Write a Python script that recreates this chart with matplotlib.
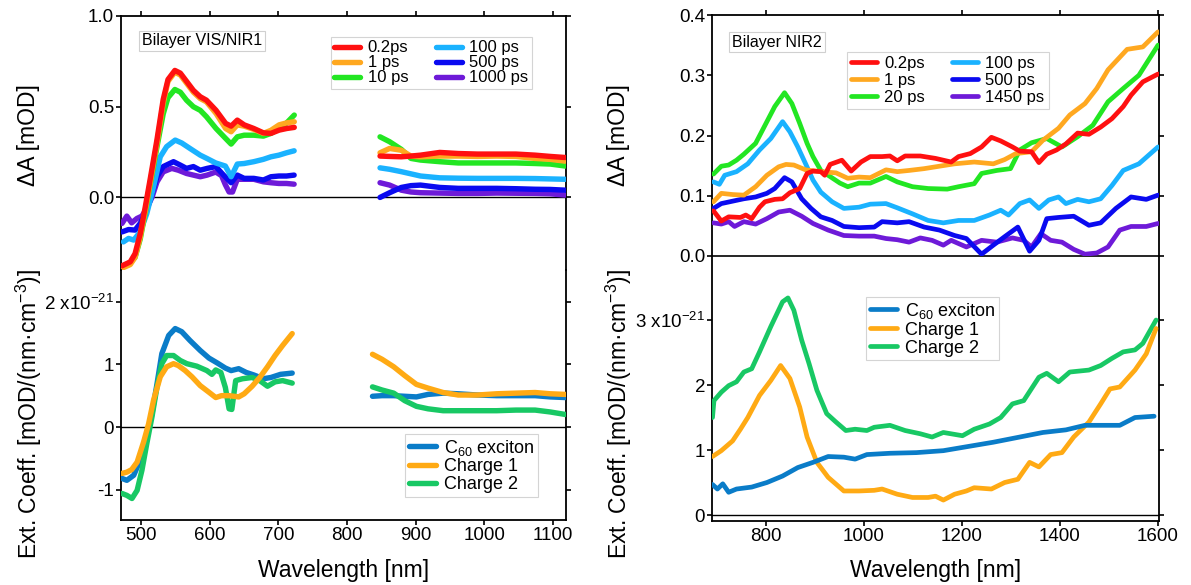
import matplotlib
matplotlib.use("Agg")
import matplotlib.pyplot as plt

plt.rcParams["font.family"] = ["Liberation Sans", "DejaVu Sans"]
plt.rcParams["mathtext.fontset"] = "custom"
plt.rcParams["mathtext.rm"] = "Liberation Sans"
plt.rcParams["mathtext.it"] = "Liberation Sans:italic"
plt.rcParams["mathtext.default"] = "regular"
plt.rcParams["axes.unicode_minus"] = False

# ---------------- Bilayer VIS/NIR1 : transient absorption ----------------
vis_red_wl = [472, 484, 491, 498.5, 506, 513, 523, 532, 539, 549, 557, 566, 576, 586, 595, 609, 623, 631, 640, 650, 664, 678, 689, 701, 712, 723]
vis_red = [-0.377, -0.355, -0.31, -0.2, -0.05, 0.10, 0.32, 0.54, 0.65, 0.70, 0.685, 0.64, 0.59, 0.555, 0.536, 0.48, 0.408, 0.393, 0.426, 0.40, 0.38, 0.356, 0.353, 0.371, 0.38, 0.386]
vis_orange = [-0.39, -0.37, -0.33, -0.22, -0.07, 0.08, 0.30, 0.52, 0.64, 0.69, 0.675, 0.63, 0.58, 0.545, 0.527, 0.463, 0.38, 0.362, 0.40, 0.393, 0.375, 0.353, 0.37, 0.40, 0.411, 0.417]
vis_green = [-0.38, -0.36, -0.33, -0.23, -0.08, 0.07, 0.28, 0.46, 0.55, 0.595, 0.58, 0.536, 0.50, 0.48, 0.445, 0.38, 0.325, 0.294, 0.334, 0.343, 0.343, 0.338, 0.353, 0.38, 0.411, 0.454]

vis_lblue_wl = [474, 481.5, 489, 498.5, 508, 518, 527.7, 537, 549.5, 559, 571, 586, 595.6, 608.6, 622.6, 631, 640, 650, 664, 678, 689, 700.6, 711.7, 722.8]
vis_lblue = [-0.245, -0.226, -0.235, -0.19, -0.09, 0.06, 0.224, 0.28, 0.316, 0.30, 0.27, 0.233, 0.215, 0.19, 0.173, 0.114, 0.184, 0.187, 0.197, 0.21, 0.224, 0.233, 0.246, 0.257]

vis_blue_wl = [472, 481.5, 491, 498.5, 506, 513, 523, 532, 547, 557, 566, 576, 586, 596, 608.6, 620, 631, 640, 650, 664, 678, 689, 700.6, 711.7, 722.8]
vis_blue = [-0.19, -0.177, -0.18, -0.143, -0.088, -0.015, 0.114, 0.17, 0.197, 0.178, 0.16, 0.17, 0.15, 0.16, 0.17, 0.123, 0.081, 0.123, 0.105, 0.105, 0.096, 0.114, 0.118, 0.118, 0.123]

vis_purple_wl = [472, 479, 486, 493.7, 501, 508, 515.6, 523, 532, 544.5, 554, 566, 576, 586, 596, 608.6, 617, 622.6, 628, 633, 640, 650, 664, 678, 689, 700.6, 711.7, 722.8]
vis_purple = [-0.143, -0.103, -0.14, -0.116, -0.103, -0.06, 0.0, 0.086, 0.141, 0.16, 0.15, 0.132, 0.123, 0.114, 0.123, 0.14, 0.12, 0.07, 0.03, 0.03, 0.10, 0.10, 0.10, 0.086, 0.081, 0.077, 0.077, 0.073]

nir1_wl = [848, 862, 879, 893, 907, 935, 962, 990, 1018, 1046, 1074, 1096, 1118]
nir1_red = [0.228, 0.226, 0.224, 0.228, 0.233, 0.248, 0.242, 0.239, 0.239, 0.239, 0.233, 0.226, 0.22]
nir1_orange = [0.246, 0.27, 0.26, 0.228, 0.224, 0.228, 0.228, 0.226, 0.228, 0.226, 0.215, 0.21, 0.2]
nir1_green = [0.334, 0.307, 0.265, 0.215, 0.206, 0.197, 0.19, 0.19, 0.19, 0.19, 0.187, 0.184, 0.173]
nir1_lblue = [0.163, 0.155, 0.142, 0.13, 0.118, 0.108, 0.106, 0.105, 0.105, 0.105, 0.104, 0.102, 0.10]
nir1_blue = [0.0, 0.026, 0.055, 0.065, 0.068, 0.055, 0.05, 0.05, 0.05, 0.048, 0.045, 0.044, 0.04]
nir1_purple = [0.081, 0.068, 0.04, 0.03, 0.026, 0.024, 0.022, 0.022, 0.024, 0.023, 0.022, 0.02, 0.013]

ta1_labels = ["0.2ps", "1 ps", "10 ps", "100 ps", "500 ps", "1000 ps"]

# ---------------- Bilayer VIS/NIR1 : species spectra ----------------
vis_c60_wl = [472, 479, 489, 498.5, 508, 515.6, 523, 530, 540, 549.5, 559, 571, 586, 598.6, 611, 622.6, 631, 642, 653, 664, 678, 689, 703, 720]
vis_c60 = [-0.82, -0.85, -0.77, -0.53, -0.16, 0.21, 0.69, 1.17, 1.46, 1.57, 1.52, 1.38, 1.22, 1.1, 1.02, 0.94, 0.9, 0.93, 0.87, 0.83, 0.77, 0.79, 0.84, 0.86]

vis_ch1_wl = [472, 479, 486, 494, 503.4, 510.7, 518, 527.7, 537, 547, 554, 564, 574, 586, 598, 608.6, 617, 628, 642, 650, 661.6, 672.7, 684, 695, 706, 720]
vis_ch1 = [-0.74, -0.72, -0.68, -0.56, -0.24, 0.05, 0.43, 0.8, 0.96, 1.01, 0.98, 0.9, 0.8, 0.66, 0.56, 0.47, 0.5, 0.5, 0.48, 0.53, 0.65, 0.79, 0.96, 1.14, 1.3, 1.49]

vis_ch2_wl = [472, 479, 486.5, 494, 501, 508, 515.6, 523, 530, 537, 547, 557, 566.5, 581, 595.6, 603, 608.6, 616, 622.6, 628, 632, 637.6, 647.6, 661.6, 672.7, 684, 695, 706, 720]
vis_ch2 = [-1.06, -1.09, -1.14, -1.01, -0.69, -0.27, 0.16, 0.64, 1.01, 1.14, 1.14, 1.06, 1.01, 0.97, 0.9, 0.84, 0.91, 0.87, 0.63, 0.29, 0.28, 0.74, 0.77, 0.79, 0.74, 0.65, 0.72, 0.74, 0.70]

nir1_sp_wl = [837, 851, 868, 884, 901, 918, 940, 962, 990, 1018, 1046, 1074, 1096, 1118]
nir1_c60 = [0.49, 0.5, 0.5, 0.49, 0.48, 0.52, 0.54, 0.53, 0.51, 0.5, 0.5, 0.5, 0.48, 0.47]
nir1_ch1 = [1.16, 1.08, 0.96, 0.82, 0.68, 0.62, 0.55, 0.51, 0.51, 0.53, 0.54, 0.55, 0.53, 0.52]
nir1_ch2 = [0.64, 0.59, 0.54, 0.42, 0.33, 0.29, 0.26, 0.26, 0.26, 0.26, 0.27, 0.27, 0.24, 0.2]

species_labels = [r"C$_{60}$ exciton", "Charge 1", "Charge 2"]

# ---------------- Bilayer NIR2 : transient absorption ----------------
nir2_red_wl = [693, 709, 724, 748, 759, 771, 787, 798, 818, 834, 849, 869, 884, 896, 912, 920, 931, 955, 974, 994, 1013, 1037, 1053, 1068, 1084, 1115, 1146, 1178, 1193, 1217, 1240, 1260, 1279, 1303, 1318, 1342, 1357, 1373, 1393, 1412, 1436, 1459, 1483, 1506, 1529, 1545, 1569, 1600]
nir2_red = [0.075, 0.058, 0.065, 0.064, 0.068, 0.062, 0.081, 0.09, 0.094, 0.095, 0.105, 0.112, 0.137, 0.141, 0.14, 0.134, 0.152, 0.159, 0.141, 0.156, 0.165, 0.165, 0.166, 0.158, 0.166, 0.166, 0.162, 0.156, 0.165, 0.17, 0.181, 0.197, 0.191, 0.181, 0.174, 0.173, 0.155, 0.169, 0.176, 0.186, 0.204, 0.202, 0.214, 0.228, 0.248, 0.267, 0.289, 0.302]

nir2_orange_wl = [693, 709, 732, 755, 779, 802, 826, 841, 857, 881, 912, 943, 967, 990, 1013, 1045, 1068, 1092, 1123, 1146, 1185, 1225, 1264, 1287, 1310, 1342, 1365, 1397, 1420, 1451, 1475, 1498, 1537, 1569, 1600]
nir2_orange = [0.09, 0.104, 0.102, 0.101, 0.115, 0.134, 0.148, 0.152, 0.151, 0.143, 0.14, 0.138, 0.129, 0.131, 0.13, 0.143, 0.14, 0.142, 0.145, 0.148, 0.153, 0.156, 0.153, 0.16, 0.17, 0.173, 0.192, 0.212, 0.234, 0.253, 0.278, 0.309, 0.343, 0.347, 0.372]

nir2_green_wl = [693, 709, 724, 740, 755, 779, 802, 818, 838, 853, 869, 884, 896, 912, 927, 951, 967, 990, 1013, 1045, 1068, 1099, 1131, 1170, 1193, 1225, 1240, 1271, 1299, 1318, 1342, 1373, 1404, 1436, 1467, 1498, 1529, 1561, 1600]
nir2_green = [0.136, 0.149, 0.151, 0.159, 0.169, 0.187, 0.223, 0.248, 0.271, 0.253, 0.22, 0.187, 0.165, 0.142, 0.134, 0.121, 0.115, 0.121, 0.121, 0.132, 0.123, 0.115, 0.112, 0.111, 0.115, 0.12, 0.137, 0.142, 0.145, 0.176, 0.188, 0.195, 0.181, 0.198, 0.217, 0.256, 0.278, 0.30, 0.35]

nir2_lblue_wl = [693, 705, 716, 740, 763, 787, 810, 834, 849, 865, 881, 896, 912, 935, 959, 990, 1013, 1045, 1068, 1099, 1131, 1162, 1193, 1225, 1256, 1279, 1295, 1318, 1338, 1357, 1377, 1397, 1412, 1436, 1459, 1483, 1506, 1529, 1561, 1600]
nir2_lblue = [0.123, 0.119, 0.134, 0.14, 0.153, 0.176, 0.195, 0.223, 0.206, 0.181, 0.153, 0.126, 0.106, 0.09, 0.079, 0.081, 0.086, 0.087, 0.08, 0.07, 0.059, 0.055, 0.059, 0.059, 0.068, 0.076, 0.068, 0.087, 0.093, 0.079, 0.093, 0.098, 0.087, 0.094, 0.09, 0.095, 0.117, 0.142, 0.153, 0.181]

nir2_blue_wl = [693, 709, 732, 755, 779, 802, 818, 838, 853, 873, 892, 912, 935, 959, 990, 1021, 1037, 1068, 1092, 1123, 1154, 1185, 1209, 1240, 1264, 1287, 1314, 1338, 1357, 1373, 1397, 1428, 1459, 1483, 1514, 1545, 1576, 1600]
nir2_blue = [0.079, 0.087, 0.091, 0.095, 0.098, 0.104, 0.112, 0.13, 0.123, 0.095, 0.079, 0.065, 0.059, 0.049, 0.047, 0.048, 0.057, 0.055, 0.057, 0.048, 0.043, 0.034, 0.029, 0.003, 0.018, 0.032, 0.048, 0.008, 0.026, 0.062, 0.064, 0.066, 0.051, 0.055, 0.079, 0.098, 0.094, 0.101]

nir2_purple_wl = [693, 709, 724, 736, 755, 779, 802, 826, 849, 873, 896, 927, 959, 990, 1021, 1045, 1068, 1092, 1115, 1139, 1162, 1178, 1209, 1240, 1271, 1303, 1326, 1342, 1361, 1381, 1404, 1428, 1451, 1475, 1498, 1522, 1545, 1576, 1600]
nir2_purple = [0.055, 0.053, 0.057, 0.049, 0.057, 0.053, 0.062, 0.073, 0.076, 0.066, 0.054, 0.043, 0.034, 0.033, 0.033, 0.029, 0.027, 0.023, 0.03, 0.026, 0.018, 0.026, 0.015, 0.026, 0.023, 0.03, 0.026, 0.015, 0.037, 0.026, 0.023, 0.011, 0.003, 0.005, 0.015, 0.043, 0.049, 0.049, 0.054]

ta2_labels = ["0.2ps", "1 ps", "20 ps", "100 ps", "500 ps", "1450 ps"]

# ---------------- Bilayer NIR2 : species spectra ----------------
nir2_c60_wl = [691, 701, 712, 724, 740, 771, 802, 834, 865, 896, 927, 959, 982, 1006, 1053, 1107, 1162, 1209, 1264, 1318, 1365, 1412, 1451, 1483, 1522, 1553, 1592]
nir2_c60 = [0.47, 0.4, 0.48, 0.35, 0.4, 0.43, 0.5, 0.6, 0.73, 0.81, 0.9, 0.89, 0.86, 0.93, 0.95, 0.96, 0.99, 1.05, 1.12, 1.2, 1.27, 1.31, 1.38, 1.38, 1.38, 1.5, 1.52]

nir2_ch1_wl = [691, 709, 732, 748, 763, 787, 810, 830, 849, 869, 884, 904, 927, 959, 990, 1021, 1037, 1068, 1099, 1131, 1146, 1162, 1185, 1209, 1225, 1260, 1287, 1314, 1338, 1357, 1381, 1404, 1428, 1459, 1483, 1502, 1522, 1553, 1576, 1596]
nir2_ch1 = [0.9, 0.99, 1.14, 1.32, 1.5, 1.84, 2.07, 2.3, 2.1, 1.66, 1.2, 0.81, 0.58, 0.37, 0.37, 0.38, 0.4, 0.32, 0.27, 0.27, 0.29, 0.23, 0.32, 0.37, 0.42, 0.4, 0.5, 0.55, 0.81, 0.74, 0.93, 0.96, 1.2, 1.43, 1.71, 1.94, 1.97, 2.23, 2.48, 2.87]

nir2_ch2_wl = [691, 694, 709, 724, 740, 755, 771, 787, 810, 834, 845, 857, 873, 888, 904, 924, 943, 963, 982, 1006, 1021, 1053, 1084, 1115, 1139, 1162, 1201, 1225, 1256, 1279, 1303, 1326, 1357, 1373, 1397, 1420, 1459, 1483, 1506, 1529, 1553, 1569, 1596]
nir2_ch2 = [1.5, 1.76, 1.89, 1.99, 2.05, 2.2, 2.25, 2.51, 2.9, 3.28, 3.34, 3.15, 2.69, 2.33, 1.92, 1.56, 1.43, 1.3, 1.32, 1.3, 1.35, 1.38, 1.3, 1.25, 1.2, 1.27, 1.22, 1.32, 1.4, 1.5, 1.71, 1.76, 2.12, 2.18, 2.05, 2.2, 2.23, 2.3, 2.41, 2.51, 2.54, 2.64, 3.0]

# ---------------- styling ----------------
ta_colors = ["#ff1010", "#ffa820", "#22e622", "#1ab2ff", "#0a0af0", "#6e1ad8"]
sp_colors = ["#0a7cc8", "#ffaa14", "#18c864"]
LW_LEFT = 3.9
LW_RIGHT = 3.4
TICK_FS = 13.5
LABEL_FS = 16.5

W, H = 1191, 585
fig = plt.figure(figsize=(W / 100, H / 100), dpi=100)


def frac_box(x0, y0, x1, y1):
    return [x0 / W, 1 - y1 / H, (x1 - x0) / W, (y1 - y0) / H]


ax_tl = fig.add_axes(frac_box(121, 16, 566, 270))
ax_bl = fig.add_axes(frac_box(121, 270, 566, 520))
ax_tr = fig.add_axes(frac_box(712, 15, 1159, 256))
ax_br = fig.add_axes(frac_box(712, 256, 1159, 521))

left_kw = dict(lw=LW_LEFT, solid_capstyle="round", solid_joinstyle="round")
right_kw = dict(lw=LW_RIGHT, solid_capstyle="round", solid_joinstyle="round")
legend_kw = dict(loc="upper left", bbox_transform=fig.transFigure, frameon=True, fancybox=False,
                 edgecolor="#d4d4d4", framealpha=1, borderaxespad=0, handletextpad=0.45)

# upper left
vis_sets = [(vis_red_wl, vis_red), (vis_red_wl, vis_orange), (vis_red_wl, vis_green),
            (vis_lblue_wl, vis_lblue), (vis_blue_wl, vis_blue), (vis_purple_wl, vis_purple)]
nir1_sets = [nir1_red, nir1_orange, nir1_green, nir1_lblue, nir1_blue, nir1_purple]
handles = []
for i in range(6):
    z = 10 - i
    h, = ax_tl.plot(vis_sets[i][0], vis_sets[i][1], color=ta_colors[i], zorder=z, label=ta1_labels[i], **left_kw)
    ax_tl.plot(nir1_wl, nir1_sets[i], color=ta_colors[i], zorder=z, **left_kw)
    handles.append(h)
ax_tl.axhline(0, color="black", lw=1.0, zorder=1)
leg = ax_tl.legend(handles=handles, ncol=2, bbox_to_anchor=(331 / W, 1 - 37 / H), fontsize=12,
                   borderpad=0.2, handlelength=1.55, labelspacing=0.0, columnspacing=1.65, **legend_kw)
leg.get_frame().set_linewidth(0.8)

# lower left
sp_vis = [(vis_c60_wl, vis_c60), (vis_ch1_wl, vis_ch1), (vis_ch2_wl, vis_ch2)]
sp_nir1 = [nir1_c60, nir1_ch1, nir1_ch2]
sp_z = [5, 7, 6]
handles = []
for i in range(3):
    h, = ax_bl.plot(sp_vis[i][0], sp_vis[i][1], color=sp_colors[i], zorder=sp_z[i], label=species_labels[i], **left_kw)
    ax_bl.plot(nir1_sp_wl, sp_nir1[i], color=sp_colors[i], zorder=sp_z[i], **left_kw)
    handles.append(h)
ax_bl.axhline(0, color="black", lw=1.0, zorder=1)
leg = ax_bl.legend(handles=handles, bbox_to_anchor=(405 / W, 1 - 434 / H), fontsize=13,
                   borderpad=0.2, handlelength=1.5, labelspacing=0.04, **legend_kw)
leg.get_frame().set_linewidth(0.8)

# upper right
nir2_sets = [(nir2_red_wl, nir2_red), (nir2_orange_wl, nir2_orange), (nir2_green_wl, nir2_green),
             (nir2_lblue_wl, nir2_lblue), (nir2_blue_wl, nir2_blue), (nir2_purple_wl, nir2_purple)]
handles = []
for i in range(6):
    h, = ax_tr.plot(nir2_sets[i][0], nir2_sets[i][1], color=ta_colors[i], zorder=10 - i,
                    label=ta2_labels[i], **right_kw)
    handles.append(h)
ax_tr.axhline(0, color="black", lw=1.2, zorder=1, clip_on=False)
leg = ax_tr.legend(handles=handles, ncol=2, bbox_to_anchor=(847 / W, 1 - 52 / H), fontsize=12,
                   borderpad=0.25, handlelength=1.55, labelspacing=0.12, columnspacing=1.6, **legend_kw)
leg.get_frame().set_linewidth(0.8)

# lower right
sp_nir2 = [(nir2_c60_wl, nir2_c60), (nir2_ch1_wl, nir2_ch1), (nir2_ch2_wl, nir2_ch2)]
handles = []
for i in range(3):
    h, = ax_br.plot(sp_nir2[i][0], sp_nir2[i][1], color=sp_colors[i], zorder=[7, 6, 5][i],
                    label=species_labels[i], **right_kw)
    handles.append(h)
ax_br.axhline(0, color="black", lw=1.0, zorder=1)
leg = ax_br.legend(handles=handles, bbox_to_anchor=(866 / W, 1 - 297 / H), fontsize=13,
                   borderpad=0.2, handlelength=1.5, labelspacing=0.06, **legend_kw)
leg.get_frame().set_linewidth(0.8)

# axes limits and ticks
ax_tl.set_xlim(470.5, 1119)
ax_bl.set_xlim(470.5, 1119)
ax_tl.set_ylim(-0.4, 1.0)
ax_bl.set_ylim(-1.483, 2.504)
ax_tr.set_xlim(690, 1602)
ax_br.set_xlim(690, 1602)
ax_tr.set_ylim(0, 0.4)
ax_br.set_ylim(-0.092, 3.985)

left_xt = [500, 600, 700, 800, 900, 1000, 1100]
right_xt = [800, 1000, 1200, 1400, 1600]

ax_tl.set_xticks(left_xt)
ax_tl.set_yticks([0.0, 0.5, 1.0])
ax_tl.set_yticklabels(["0.0", "0.5", "1.0"])
ax_bl.set_xticks(left_xt)
ax_bl.set_xticklabels([str(v) for v in left_xt])
ax_bl.set_yticks([-1, 0, 1, 2])
ax_bl.set_yticklabels(["-1", "0", "1", r"2 x10$^{-21}$"])

ax_tr.set_xticks(right_xt)
ax_tr.set_yticks([0.0, 0.1, 0.2, 0.3, 0.4])
ax_tr.set_yticklabels(["0.0", "0.1", "0.2", "0.3", "0.4"])
ax_br.set_xticks(right_xt)
ax_br.set_xticklabels([str(v) for v in right_xt])
ax_br.set_yticks([0, 1, 2, 3])
ax_br.set_yticklabels(["0", "1", "2", r"3 x10$^{-21}$"])

for ax in (ax_tl, ax_tr):
    ax.spines["bottom"].set_visible(False)
    ax.tick_params(axis="x", which="both", bottom=False, labelbottom=False, top=True, labeltop=False)
for ax in (ax_bl, ax_br):
    ax.spines["top"].set_visible(False)
    ax.tick_params(axis="x", which="both", top=False, bottom=True, labelbottom=True)
for ax in (ax_tl, ax_bl, ax_tr, ax_br):
    for s in ax.spines.values():
        s.set_linewidth(1.3)
    ax.tick_params(axis="y", right=True, labelright=False)
    ax.tick_params(direction="out", length=3.5, width=1.2, pad=1.5, labelsize=TICK_FS, colors="black")
    ax.set_facecolor("none")

# panel titles
box_kw = dict(boxstyle="square,pad=0.18", fc="white", ec="#d0d0d0", lw=0.8)
fig.text(202 / W, 1 - 41 / H, "Bilayer VIS/NIR1", ha="center", va="center", fontsize=11.5, bbox=box_kw)
fig.text(777 / W, 1 - 42 / H, "Bilayer NIR2", ha="center", va="center", fontsize=11.5, bbox=box_kw)

# axis labels
fig.text(29 / W, 1 - 135 / H, "ΔA [mOD]", rotation=90, ha="center", va="center", fontsize=LABEL_FS)
fig.text(619 / W, 1 - 135 / H, "ΔA [mOD]", rotation=90, ha="center", va="center", fontsize=LABEL_FS)
ylab2 = r"Ext. Coeff. [mOD/(nm·cm$^{-3}$)]"
fig.text(29 / W, 1 - 414 / H, ylab2, rotation=90, ha="center", va="center", fontsize=LABEL_FS)
fig.text(619 / W, 1 - 414 / H, ylab2, rotation=90, ha="center", va="center", fontsize=LABEL_FS)
fig.text(343.5 / W, 1 - 570 / H, "Wavelength [nm]", ha="center", va="center", fontsize=LABEL_FS)
fig.text(935.5 / W, 1 - 570 / H, "Wavelength [nm]", ha="center", va="center", fontsize=LABEL_FS)

fig.savefig("out.png", dpi=100, facecolor="white")
